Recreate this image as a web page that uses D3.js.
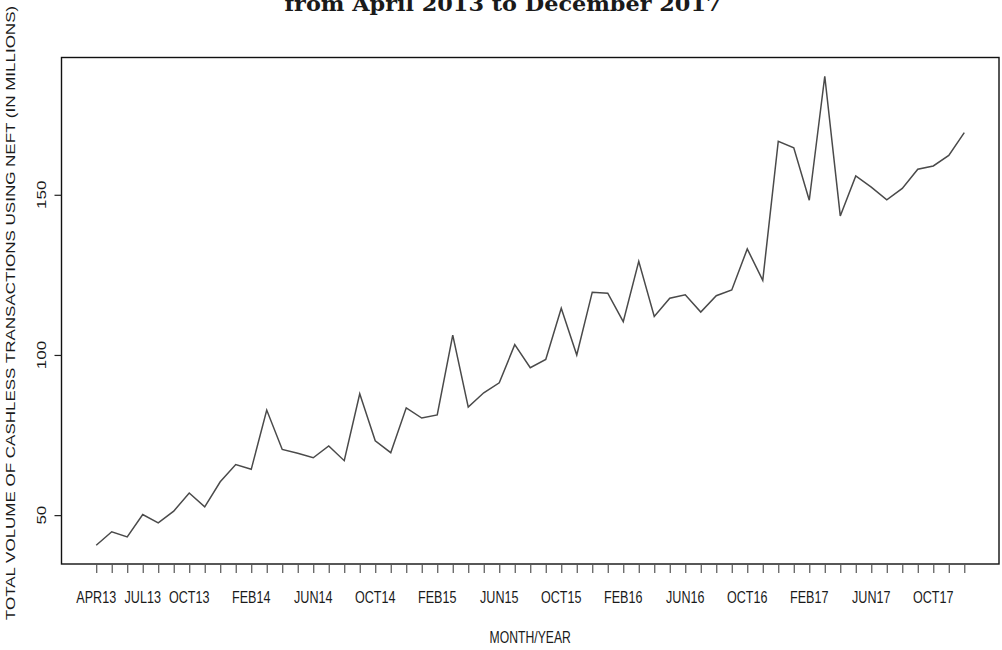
<!DOCTYPE html>
<html>
<head>
<meta charset="utf-8">
<script src="https://cdn.jsdelivr.net/npm/d3@7"></script>
<style>
  html, body { margin: 0; padding: 0; background: #fff; }
  svg { display: block; }
  text { font-family: "Liberation Sans", Arial, Helvetica, sans-serif; fill: #1a1a1a; }
</style>
</head>
<body>
<script>
// Monthly NEFT transaction volume, April 2013 - December 2017 (millions)
const months = [
  "APR13","MAY13","JUN13","JUL13","AUG13","SEP13","OCT13","NOV13","DEC13",
  "JAN14","FEB14","MAR14","APR14","MAY14","JUN14","JUL14","AUG14","SEP14","OCT14","NOV14","DEC14",
  "JAN15","FEB15","MAR15","APR15","MAY15","JUN15","JUL15","AUG15","SEP15","OCT15","NOV15","DEC15",
  "JAN16","FEB16","MAR16","APR16","MAY16","JUN16","JUL16","AUG16","SEP16","OCT16","NOV16","DEC16",
  "JAN17","FEB17","MAR17","APR17","MAY17","JUN17","JUL17","AUG17","SEP17","OCT17","NOV17","DEC17"
];
const volume = [
  40.6, 44.8, 43.2, 50.2, 47.6, 51.25, 56.9, 52.6, 60.4,
  65.8, 64.3, 82.8, 70.5, 69.3, 67.9, 71.6, 67.0, 87.9, 73.2, 69.5, 83.5,
  80.3, 81.3, 106.2, 83.7, 88.2, 91.3, 103.2, 96.0, 98.6, 114.6, 100.0, 119.6,
  119.3, 110.4, 129.2, 112.0, 117.7, 118.8, 113.4, 118.5, 120.3, 133.1, 123.3, 166.7,
  164.7, 148.3, 187.0, 143.4, 155.9, 152.4, 148.4, 152.0, 158.0, 159.0, 162.3, 169.4
];
// Month labels printed under the axis (the rest are skipped for room)
const shownLabels = ["APR13","JUL13","OCT13","FEB14","JUN14","OCT14","FEB15","JUN15",
  "OCT15","FEB16","JUN16","OCT16","FEB17","JUN17","OCT17"];
const yTicks = [50, 100, 150];

const titleText = "from April 2013 to December 2017";
const xTitle = "MONTH/YEAR";
const yTitle = "TOTAL VOLUME OF CASHLESS TRANSACTIONS USING NEFT (IN MILLIONS)";

const W = 1002, H = 650;
const plot = { left: 61.5, right: 999, top: 57.5, bottom: 564 };
const squeeze = 0.74; // horizontal narrowing of glyphs

const svg = d3.select("body").append("svg").attr("width", W).attr("height", H);
svg.append("rect").attr("width", W).attr("height", H).attr("fill", "#fff");

// Axis ranges padded 4% on each side
const pad = (lo, hi) => { const p = (hi - lo) * 0.04; return [lo - p, hi + p]; };
const x = d3.scaleLinear().domain(pad(0, months.length - 1)).range([plot.left, plot.right]);
const y = d3.scaleLinear().domain(pad(d3.min(volume), d3.max(volume))).range([plot.bottom, plot.top]);

// Data line
const line = d3.line().x((d, i) => x(i)).y(d => y(d));
svg.append("path").datum(volume)
  .attr("d", line)
  .attr("fill", "none")
  .attr("stroke", "#4a4a4a")
  .attr("stroke-width", 1.5)
  .attr("stroke-linejoin", "miter");

// Plot frame
svg.append("rect")
  .attr("x", plot.left).attr("y", plot.top)
  .attr("width", plot.right - plot.left).attr("height", plot.bottom - plot.top)
  .attr("fill", "none").attr("stroke", "#111").attr("stroke-width", 1.4);

// X axis: tick at each month, labels on selected months
const xAxis = d3.axisBottom(x)
  .tickValues(d3.range(months.length))
  .tickSize(9)
  .tickFormat(() => "");
const gx = svg.append("g").attr("transform", `translate(0,${plot.bottom})`).call(xAxis);
gx.select(".domain").remove();
gx.selectAll(".tick line").attr("stroke", "#555").attr("stroke-width", 1.2);

shownLabels.forEach(lab => {
  const i = months.indexOf(lab);
  svg.append("text")
    .attr("transform", `translate(${x(i)},603) scale(${squeeze},1)`)
    .attr("text-anchor", "middle")
    .attr("font-size", 17)
    .text(lab);
});

// Y axis: ticks with rotated labels
const yAxis = d3.axisLeft(y).tickValues(yTicks).tickSize(7).tickFormat(() => "");
const gy = svg.append("g").attr("transform", `translate(${plot.left},0)`).call(yAxis);
gy.select(".domain").remove();
gy.selectAll(".tick line").attr("stroke", "#222").attr("stroke-width", 1.2);

yTicks.forEach(v => {
  svg.append("text")
    .attr("transform", `translate(45.5,${y(v)}) scale(${squeeze},1) rotate(-90)`)
    .attr("text-anchor", "middle")
    .attr("font-size", 17)
    .text(d3.format("d")(v));
});

// Axis titles
svg.append("text")
  .attr("transform", `translate(${(plot.left + plot.right) / 2},643) scale(${squeeze},1)`)
  .attr("text-anchor", "middle")
  .attr("font-size", 16.5)
  .text(xTitle);

svg.append("text")
  .attr("transform", `translate(14.5,313) scale(${squeeze},1) rotate(-90)`)
  .attr("text-anchor", "middle")
  .attr("font-size", 17)
  .text(yTitle);

// Chart title (second line)
svg.append("text")
  .attr("x", 503).attr("y", 10.5)
  .attr("text-anchor", "middle")
  .style("font-family", "'DejaVu Serif', 'Liberation Serif', serif")
  .style("font-weight", "bold")
  .attr("font-size", 21)
  .attr("textLength", 437)
  .attr("lengthAdjust", "spacingAndGlyphs")
  .text(titleText);
</script>
</body>
</html>
